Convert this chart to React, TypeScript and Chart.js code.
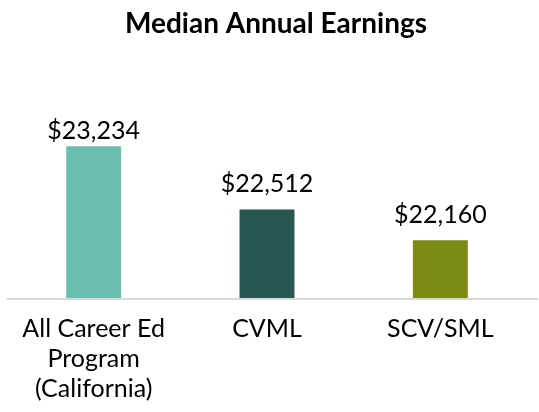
import React, { useEffect, useRef } from "react";
import { Chart, registerables } from "chart.js";

Chart.register(...registerables);

const categories: (string | string[])[] = [
  ["All Career Ed", "Program", "(California)"],
  "CVML",
  "SCV/SML",
];
const earnings: number[] = [23234, 22512, 22160];
const barColors: string[] = ["#6bbfae", "#285752", "#7d8a13"];
const titleText = "Median Annual Earnings";
const yMin = 21500;
const yMax = 23500;

const fmt = (v: number) => "$" + v.toLocaleString("en-US");

const valueLabels = {
  id: "valueLabels",
  afterDatasetsDraw(chart: any) {
    const { ctx, chartArea } = chart;
    const meta = chart.getDatasetMeta(0);
    ctx.save();
    ctx.font = "25px Lato";
    ctx.fillStyle = "#000000";
    ctx.textAlign = "center";
    ctx.textBaseline = "alphabetic";
    meta.data.forEach((bar: any, i: number) => {
      const y = Math.max(bar.y - 17, chartArea.top + 16);
      ctx.fillText(fmt(earnings[i]), bar.x, y);
    });
    ctx.restore();
  },
};

const titlePlugin = {
  id: "titleText",
  afterDraw(chart: any) {
    const { ctx } = chart;
    ctx.save();
    ctx.font = "bold 28px Lato";
    ctx.fillStyle = "#000000";
    ctx.textAlign = "center";
    ctx.textBaseline = "alphabetic";
    ctx.fillText(titleText, 276, 33);
    ctx.restore();
  },
};

const baseLine = {
  id: "baseLine",
  afterDatasetsDraw(chart: any) {
    const { ctx, chartArea } = chart;
    const y = chart.scales.y.getPixelForValue(yMin);
    ctx.save();
    ctx.strokeStyle = "#d9d9d9";
    ctx.lineWidth = 2;
    ctx.beginPath();
    ctx.moveTo(chartArea.left, y + 1);
    ctx.lineTo(chart.width - 1, y + 1);
    ctx.stroke();
    ctx.restore();
  },
};

export default function App() {
  const ref = useRef<HTMLCanvasElement | null>(null);
  useEffect(() => {
    if (!ref.current) return;
    const chart = new Chart(ref.current, {
      type: "bar",
      data: {
        labels: categories,
        datasets: [
          {
            data: earnings,
            backgroundColor: barColors,
            borderWidth: 0,
            categoryPercentage: 1,
            barPercentage: 0.317,
          },
        ],
      },
      options: {
        animation: false,
        responsive: true,
        maintainAspectRatio: false,
        layout: { padding: { left: 7, right: 12, top: 123, bottom: 0 } },
        plugins: {
          legend: { display: false },
          tooltip: { enabled: false },
          title: { display: false },
        },
        scales: {
          x: {
            grid: { display: false, drawTicks: false },
            border: { display: false },
            ticks: {
              color: "#000000",
              font: { family: "Lato", size: 25, lineHeight: 1.2 },
              padding: 16,
              maxRotation: 0,
              autoSkip: false,
            },
          },
          y: {
            display: false,
            min: yMin,
            max: yMax,
          },
        },
      },
      plugins: [valueLabels, baseLine, titlePlugin],
    });
    return () => chart.destroy();
  }, []);
  return (
    <div style={{ position: "absolute", left: 0, top: 0, width: 539, height: 420, background: "#fff" }}>
      <canvas ref={ref} />
    </div>
  );
}
